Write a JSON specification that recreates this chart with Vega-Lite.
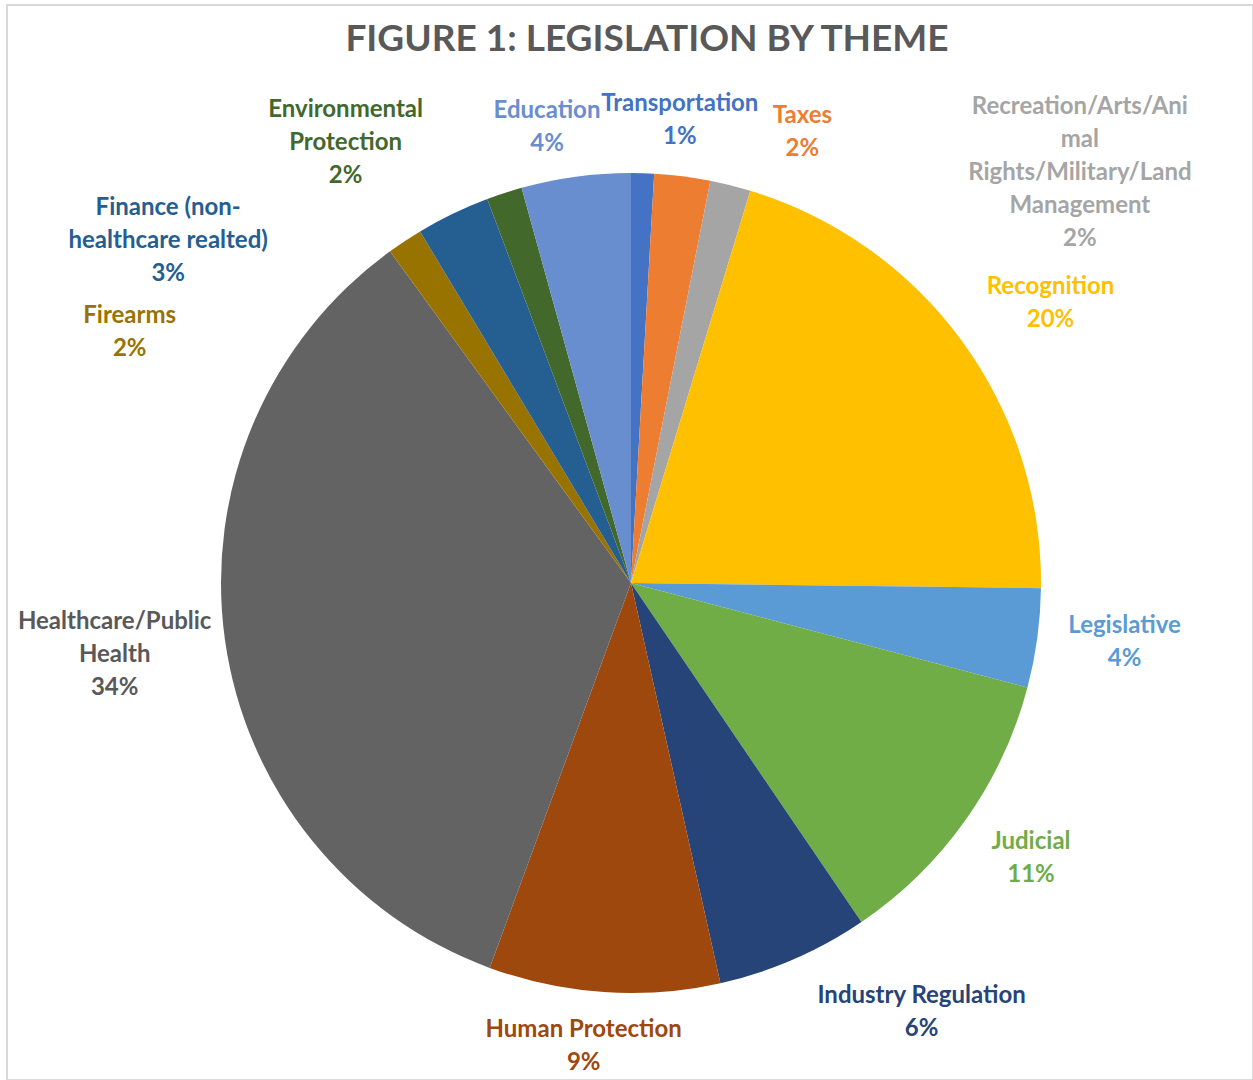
{
  "$schema": "https://vega.github.io/schema/vega-lite/v6.json",
  "width": 1246,
  "height": 1075,
  "autosize": {"type": "none"},
  "padding": {"left": 7, "top": 5, "right": 0, "bottom": 0},
  "background": "white",
  "view": {"stroke": "#D9D9D9", "strokeWidth": 2},
  "config": {"view": {"stroke": "#D9D9D9", "strokeWidth": 2}},
  "title": {
    "text": "FIGURE 1: LEGISLATION BY THEME",
    "font": "Lato",
    "fontSize": 37,
    "fontWeight": "bold",
    "color": "#595959",
    "anchor": "middle",
    "baseline": "middle",
    "offset": 0,
    "dx": 17,
    "dy": 72
  },
  "data": {
    "values": [
      {"idx": 1, "theme": "Transportation", "value": 0.9, "label": "Transportation\n1%"},
      {"idx": 2, "theme": "Taxes", "value": 2.2, "label": "Taxes\n2%"},
      {"idx": 3, "theme": "Recreation/Arts/Animal Rights/Military/Land Management", "value": 1.6, "label": "Recreation/Arts/Ani\nmal\nRights/Military/Land\nManagement\n2%"},
      {"idx": 4, "theme": "Recognition", "value": 20.5, "label": "Recognition\n20%"},
      {"idx": 5, "theme": "Legislative", "value": 3.9, "label": "Legislative\n4%"},
      {"idx": 6, "theme": "Judicial", "value": 11.4, "label": "Judicial\n11%"},
      {"idx": 7, "theme": "Industry Regulation", "value": 6.0, "label": "Industry Regulation\n6%"},
      {"idx": 8, "theme": "Human Protection", "value": 9.1, "label": "Human Protection\n9%"},
      {"idx": 9, "theme": "Healthcare/Public Health", "value": 34.4, "label": "Healthcare/Public\nHealth\n34%"},
      {"idx": 10, "theme": "Firearms", "value": 1.4, "label": "Firearms\n2%"},
      {"idx": 11, "theme": "Finance (non-healthcare realted)", "value": 2.9, "label": "Finance (non-\nhealthcare realted)\n3%"},
      {"idx": 12, "theme": "Environmental Protection", "value": 1.4, "label": "Environmental\nProtection\n2%"},
      {"idx": 13, "theme": "Education", "value": 4.3, "label": "Education\n4%"}
    ]
  },
  "encoding": {
    "theta": {"field": "value", "type": "quantitative", "stack": true},
    "order": {"field": "idx", "type": "quantitative"},
    "color": {
      "field": "idx",
      "type": "nominal",
      "legend": null,
      "scale": {
        "domain": [1, 2, 3, 4, 5, 6, 7, 8, 9, 10, 11, 12, 13],
        "range": ["#4472C4", "#ED7D31", "#A5A5A5", "#FFC000", "#5B9BD5", "#70AD47", "#264478", "#9E480E", "#636363", "#997300", "#255E91", "#43682B", "#698ED0"]
      }
    }
  },
  "layer": [
    {"mark": {"type": "arc", "outerRadius": 410, "xOffset": 1, "yOffset": 40.5}},
    {"mark": {"type": "text", "radius": 490, "xOffset": 1, "yOffset": 40.5, "dx": 35, "dy": 10.5, "font": "Lato", "fontSize": 24, "fontWeight": "bold", "lineBreak": "\n", "lineHeight": 33, "align": "center", "baseline": "middle"},
     "encoding": {"text": {"condition": {"test": "datum.idx === 1", "field": "label"}, "value": ""}}},
    {"mark": {"type": "text", "radius": 490, "xOffset": 1, "yOffset": 40.5, "dx": 110, "dy": 19.5, "font": "Lato", "fontSize": 24, "fontWeight": "bold", "lineBreak": "\n", "lineHeight": 33, "align": "center", "baseline": "middle"},
     "encoding": {"text": {"condition": {"test": "datum.idx === 2", "field": "label"}, "value": ""}}},
    {"mark": {"type": "text", "radius": 490, "xOffset": 1, "yOffset": 40.5, "dx": 330, "dy": -1, "font": "Lato", "fontSize": 24, "fontWeight": "bold", "lineBreak": "\n", "lineHeight": 33, "align": "center", "baseline": "middle"},
     "encoding": {"text": {"condition": {"test": "datum.idx === 3", "field": "label"}, "value": ""}}},
    {"mark": {"type": "text", "radius": 490, "xOffset": 1, "yOffset": 40.5, "dx": 24, "dy": -6.5, "font": "Lato", "fontSize": 24, "fontWeight": "bold", "lineBreak": "\n", "lineHeight": 33, "align": "center", "baseline": "middle"},
     "encoding": {"text": {"condition": {"test": "datum.idx === 4", "field": "label"}, "value": ""}}},
    {"mark": {"type": "text", "radius": 490, "xOffset": 1, "yOffset": 40.5, "dx": 8, "dy": -22.5, "font": "Lato", "fontSize": 24, "fontWeight": "bold", "lineBreak": "\n", "lineHeight": 33, "align": "center", "baseline": "middle"},
     "encoding": {"text": {"condition": {"test": "datum.idx === 5", "field": "label"}, "value": ""}}},
    {"mark": {"type": "text", "radius": 490, "xOffset": 1, "yOffset": 40.5, "dx": 0, "dy": -24.5, "font": "Lato", "fontSize": 24, "fontWeight": "bold", "lineBreak": "\n", "lineHeight": 33, "align": "center", "baseline": "middle"},
     "encoding": {"text": {"condition": {"test": "datum.idx === 6", "field": "label"}, "value": ""}}},
    {"mark": {"type": "text", "radius": 490, "xOffset": 1, "yOffset": 40.5, "dx": 96, "dy": -36.5, "font": "Lato", "fontSize": 24, "fontWeight": "bold", "lineBreak": "\n", "lineHeight": 33, "align": "center", "baseline": "middle"},
     "encoding": {"text": {"condition": {"test": "datum.idx === 7", "field": "label"}, "value": ""}}},
    {"mark": {"type": "text", "radius": 490, "xOffset": 1, "yOffset": 40.5, "dx": -15, "dy": -41.5, "font": "Lato", "fontSize": 24, "fontWeight": "bold", "lineBreak": "\n", "lineHeight": 33, "align": "center", "baseline": "middle"},
     "encoding": {"text": {"condition": {"test": "datum.idx === 8", "field": "label"}, "value": ""}}},
    {"mark": {"type": "text", "radius": 490, "xOffset": 1, "yOffset": 40.5, "dx": -31, "dy": -29, "font": "Lato", "fontSize": 24, "fontWeight": "bold", "lineBreak": "\n", "lineHeight": 33, "align": "center", "baseline": "middle"},
     "encoding": {"text": {"condition": {"test": "datum.idx === 9", "field": "label"}, "value": ""}, "color": {"value": "#595959"}}},
    {"mark": {"type": "text", "radius": 490, "xOffset": 1, "yOffset": 40.5, "dx": -231, "dy": 141.5, "font": "Lato", "fontSize": 24, "fontWeight": "bold", "lineBreak": "\n", "lineHeight": 33, "align": "center", "baseline": "middle"},
     "encoding": {"text": {"condition": {"test": "datum.idx === 10", "field": "label"}, "value": ""}}},
    {"mark": {"type": "text", "radius": 490, "xOffset": 1, "yOffset": 40.5, "dx": -250, "dy": 66, "font": "Lato", "fontSize": 24, "fontWeight": "bold", "lineBreak": "\n", "lineHeight": 33, "align": "center", "baseline": "middle"},
     "encoding": {"text": {"condition": {"test": "datum.idx === 11", "field": "label"}, "value": ""}}},
    {"mark": {"type": "text", "radius": 490, "xOffset": 1, "yOffset": 40.5, "dx": -134, "dy": -7, "font": "Lato", "fontSize": 24, "fontWeight": "bold", "lineBreak": "\n", "lineHeight": 33, "align": "center", "baseline": "middle"},
     "encoding": {"text": {"condition": {"test": "datum.idx === 12", "field": "label"}, "value": ""}}},
    {"mark": {"type": "text", "radius": 490, "xOffset": 1, "yOffset": 40.5, "dx": -18, "dy": 13.5, "font": "Lato", "fontSize": 24, "fontWeight": "bold", "lineBreak": "\n", "lineHeight": 33, "align": "center", "baseline": "middle"},
     "encoding": {"text": {"condition": {"test": "datum.idx === 13", "field": "label"}, "value": ""}}}
  ]
}
